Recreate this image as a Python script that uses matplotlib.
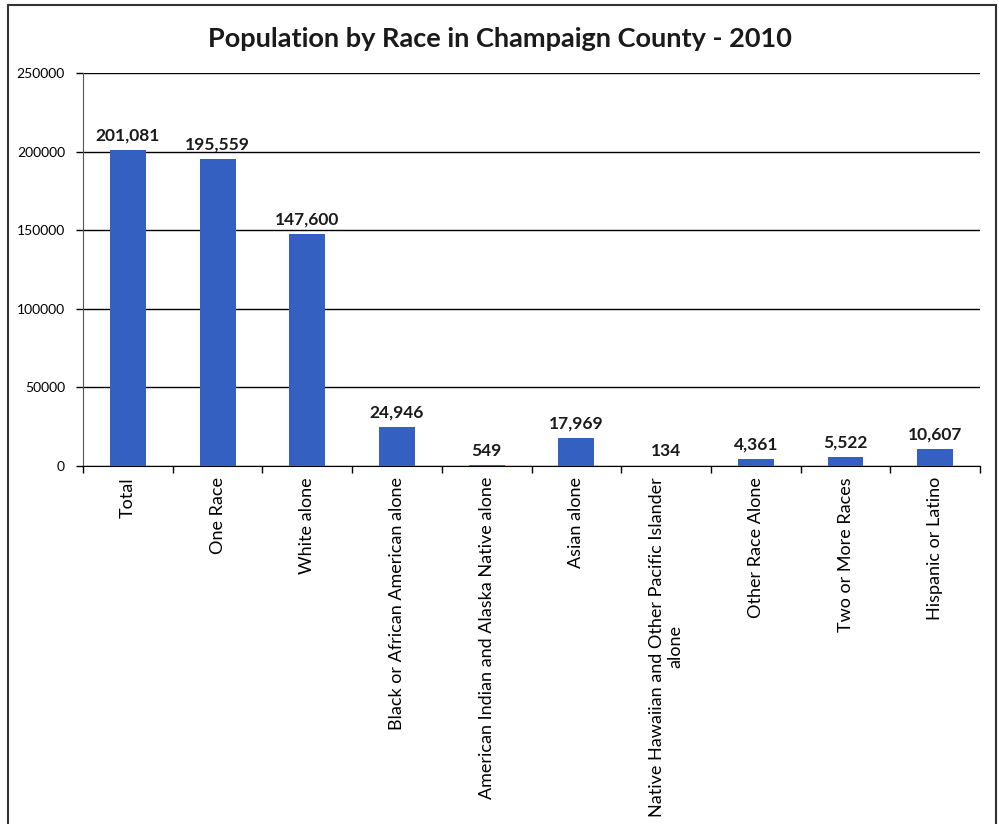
import numpy as np
import matplotlib
matplotlib.use('Agg')
import matplotlib.pyplot as plt
from matplotlib.patches import Rectangle

categories = ['Total', 'One Race', 'White alone', 'Black or African American alone',
              'American Indian and Alaska Native alone', 'Asian alone',
              'Native Hawaiian and Other Pacific Islander\nalone', 'Other Race Alone',
              'Two or More Races', 'Hispanic or Latino']
population = [201081, 195559, 147600, 24946, 549, 17969, 134, 4361, 5522, 10607]
yticks = [0, 50000, 100000, 150000, 200000, 250000]

plt.rcParams['font.family'] = ['Lato', 'DejaVu Sans']

fig = plt.figure(figsize=(9.99, 8.24), dpi=100)
ax = fig.add_axes([0.0831, 0.4345, 0.898, 0.477])

x = np.arange(len(categories))
bars = ax.bar(x, population, width=0.4, color='#3461c1', zorder=3)

for xi, v in zip(x, population):
    ax.text(xi, v + 4000, f'{v:,}', ha='center', va='bottom',
            fontsize=12.5, fontweight='bold', color='#1a1a1a')

ax.set_xlim(-0.5, len(categories) - 0.5)
ax.set_ylim(0, 250000)
ax.set_yticks(yticks)
ax.set_yticklabels([str(t) for t in yticks], fontsize=10)
ax.yaxis.grid(True, color='black', linewidth=1, zorder=0)
ax.tick_params(axis='y', direction='out', length=5, width=1, pad=8)

ax.set_xticks(x)
ax.set_xticklabels(categories, rotation=90, fontsize=13, ha='center',
                   va='top', multialignment='center')
ax.tick_params(axis='x', which='major', length=0, pad=8)
ax.set_xticks(np.arange(len(categories) + 1) - 0.5, minor=True)
ax.tick_params(axis='x', which='minor', direction='out', length=5, width=1)

for s in ['top', 'right']:
    ax.spines[s].set_visible(False)
ax.spines['left'].set_color('#555555')
ax.spines['bottom'].set_color('black')

fig.text(0.5, 0.953, 'Population by Race in Champaign County - 2010',
         ha='center', va='center', fontsize=19.5, fontweight='bold', color='#1a1a1a')

fig.patches.append(Rectangle((0.008, -0.01), 0.989, 1.004, transform=fig.transFigure,
                             fill=False, edgecolor='#333333', linewidth=1.5))

fig.savefig('out.png', dpi=100)
